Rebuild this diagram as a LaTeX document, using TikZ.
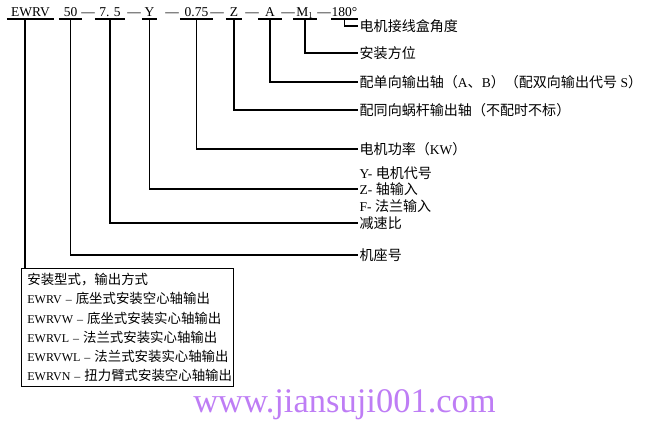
\documentclass[tikz,border=0pt]{standalone}
\usepackage{fontspec}
\setmainfont{Liberation Serif}
\newfontfamily\cjk[Scale=1.04]{Noto Sans CJK SC}
\newcommand\boxzh[1]{{\cjk\fontsize{12.9}{19.2}\selectfont #1}}
\definecolor{webpurple}{RGB}{190,125,245}
\tikzset{
  code/.style={inner xsep=0pt, inner ysep=2.5pt, text depth=0pt, font=\fontsize{13.5}{15}\selectfont},
  note/.style={anchor=west, inner xsep=1.5pt, font=\fontsize{13.5}{16}\selectfont},
  lead/.style={line width=1.1pt},
}
\begin{document}
\begin{tikzpicture}[x=1pt,y=-1pt]
    \useasboundingbox (0,0) rectangle (650,428);

    % the type number, one part after the other
    \foreach \name/\x/\w/\txt in {ewrv/30.5/47/EWRV, seat/70.5/23/50, ratio/110/30/{7. 5},
                                 y/149.5/15/Y, power/196.5/33/0.75, z/234/16/Z,
                                 a/270/24/A, mount/305/24/{M$_1$}, deg/344.5/25/{180°}} {
        \node[code, minimum width=\w pt, anchor=south] (\name) at (\x,19) {\txt};
        \draw[lead] (\name.south west) -- (\name.south east);
    }
    \foreach \x [count=\i] in {88,134,172,217,252,288,324}
        \node[code, inner ysep=0pt, anchor=base] (dash\i) at (\x,16.5) {—};

    % what each part means
    \node[note] (angle) at (358,26) {\cjk 电机接线盒角度};
    \node[note] (side) at (358,53) {\cjk 安装方位};
    \node[note] (single) at (358,82) {{\cjk 配单向输出轴（}A{\cjk 、}B{\cjk ）（配双向输出代号} S{\cjk ）}};
    \node[note] (worm) at (358,110) {\cjk 配同向蜗杆输出轴（不配时不标）};
    \node[note] (kw) at (358,149) {{\cjk 电机功率（}KW{\cjk ）}};
    \node[note] (ymotor) at (358,173) {Y- {\cjk 电机代号}};
    \node[note] (input) at (358,189) {Z- {\cjk 轴输入}};
    \node[note] (flange) at (358,206) {F- {\cjk 法兰输入}};
    \node[note] (reduce) at (358,223) {\cjk 减速比};
    \node[note] (frame) at (358,255) {\cjk 机座号};

    \foreach \from/\to in {deg/angle, mount/side, a/single, z/worm, power/kw,
                           y/input, ratio/reduce, seat/frame}
        \draw[lead] (\from.south) |- (\to.west);

    % mounting types
    \node[draw, line width=0.8pt, anchor=north west, align=left, text width=200pt,
          inner xsep=6pt, inner ysep=5pt, font=\fontsize{12}{19.2}\selectfont] (types) at (21,268)
        {\mbox{\boxzh{安装型式，输出方式}}\\
         \mbox{EWRV – \boxzh{底坐式安装空心轴输出}}\\
         \mbox{EWRVW – \boxzh{底坐式安装实心轴输出}}\\
         \mbox{EWRVL – \boxzh{法兰式安装实心轴输出}}\\
         \mbox{EWRVWL – \boxzh{法兰式安装实心轴输出}}\\
         \mbox{EWRVN – \boxzh{扭力臂式安装空心轴输出}}};
    \draw[lead] ([xshift=-5.5pt]ewrv.south) -- ([xshift=-5.5pt]ewrv.south |- types.north);

    \node[font=\fontsize{34.5}{34.5}\selectfont, text=webpurple] (site) at (344.5,405) {www.jiansuji001.com};
\end{tikzpicture}
\end{document}
